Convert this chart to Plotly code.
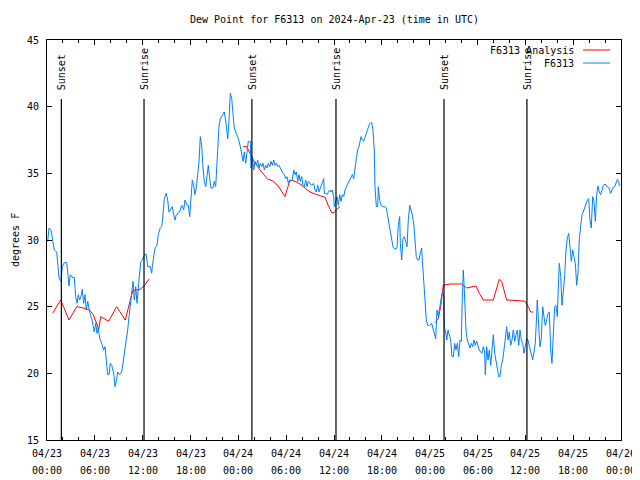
import pandas as pd
import plotly.graph_objects as go

BASE = pd.Timestamp("2024-04-23 00:00")

# F6313 observations: hours since 2024-04-23 00:00 UTC, dew point (F)
obs_hours = [0.09, 0.25, 0.5, 0.66, 0.92, 1.22, 1.34, 1.51, 1.76, 1.92, 2.17, 2.47, 2.6, 2.76, 2.92, 3.17, 3.42, 3.6, 3.76, 3.93,
             4.1, 4.26, 4.43, 4.6, 4.77, 4.93, 5.11, 5.27, 5.43, 5.61, 5.77, 5.93, 6.11, 6.27, 6.43, 6.61, 6.77, 6.94, 7.11, 7.28,
             7.44, 7.61, 7.78, 7.94, 8.12, 8.37, 8.53, 8.69, 8.87, 9.12, 9.37, 9.53, 9.78, 9.95, 10.12, 10.29, 10.45, 10.62, 10.79, 10.95,
             11.13, 11.29, 11.45, 11.63, 11.79, 11.95, 12.13, 12.29, 12.46, 12.63, 12.96, 13.13, 13.21, 13.38, 13.55, 13.8, 13.96, 14.21, 14.39, 14.55,
             14.71, 14.96, 15.14, 15.3, 15.55, 15.72, 15.89, 16.06, 16.22, 16.47, 16.72, 16.9, 17.15, 17.31, 17.56, 17.72, 17.9, 18.06, 18.23, 18.4,
             18.56, 18.73, 18.9, 19.07, 19.23, 19.4, 19.57, 19.73, 19.91, 20.07, 20.23, 20.41, 20.57, 20.82, 20.99, 21.16, 21.24, 21.41, 21.57, 21.74,
             21.99, 22.24, 22.42, 22.58, 22.67, 22.83, 22.99, 23.17, 23.33, 23.49, 23.74, 24.0, 24.25, 24.42, 24.59, 24.75, 24.92, 25.09, 25.25, 25.5,
             25.59, 25.75, 25.93, 26.09, 26.25, 26.43, 26.59, 26.76, 26.93, 27.09, 27.26, 27.43, 27.6, 27.76, 27.93, 28.1, 28.26, 28.44, 28.6, 28.76,
             28.94, 29.1, 29.26, 29.44, 29.6, 29.77, 29.94, 30.1, 30.27, 30.44, 30.61, 30.77, 30.94, 31.11, 31.27, 31.45, 31.61, 31.77, 31.95, 32.11,
             32.27, 32.45, 32.61, 32.78, 33.03, 33.2, 33.45, 33.62, 33.78, 33.96, 34.12, 34.28, 34.46, 34.71, 34.78, 34.96, 35.12, 35.29, 35.46, 35.62,
             35.79, 35.96, 36.04, 36.21, 36.38, 36.54, 36.72, 36.88, 37.04, 37.22, 37.38, 37.63, 37.88, 38.13, 38.3, 38.47, 38.63, 38.8, 38.97, 39.14,
             39.39, 39.55, 39.72, 39.89, 40.05, 40.23, 40.39, 40.55, 40.73, 40.89, 41.06, 41.14, 41.31, 41.48, 41.56, 41.73, 41.9, 42.15, 42.4, 42.56,
             42.74, 42.9, 43.06, 43.24, 43.4, 43.65, 43.9, 44.07, 44.24, 44.32, 44.49, 44.65, 44.82, 44.99, 45.16, 45.32, 45.5, 45.66, 45.82, 46.0,
             46.16, 46.32, 46.5, 46.66, 46.82, 47.0, 47.08, 47.25, 47.41, 47.58, 47.75, 48.0, 48.25, 48.42, 48.58, 48.76, 48.92, 49.08, 49.26, 49.42,
             49.58, 49.76, 49.83, 50.01, 50.14, 50.3, 50.47, 50.64, 50.8, 50.97, 51.14, 51.3, 51.47, 51.64, 51.8, 51.97, 52.06, 52.22, 52.31, 52.39,
             52.56, 52.72, 52.9, 53.06, 53.22, 53.4, 53.56, 53.72, 53.9, 54.06, 54.23, 54.4, 54.56, 54.73, 54.9, 54.98, 55.15, 55.32, 55.48, 55.66,
             55.82, 55.98, 56.16, 56.32, 56.48, 56.66, 56.82, 56.99, 57.16, 57.32, 57.49, 57.66, 57.83, 57.99, 58.16, 58.33, 58.49, 58.67, 58.83, 58.99,
             59.17, 59.33, 59.5, 59.67, 59.83, 60.0, 60.17, 60.33, 60.5, 60.67, 60.92, 61.09, 61.25, 61.43, 61.5, 61.68, 61.84, 62.0, 62.18, 62.34,
             62.5, 62.68, 62.84, 63.01, 63.18, 63.34, 63.51, 63.68, 63.85, 64.01, 64.19, 64.26, 64.44, 64.6, 64.76, 64.94, 65.1, 65.26, 65.44, 65.6,
             65.77, 65.94, 66.1, 66.27, 66.44, 66.6, 66.77, 66.94, 67.11, 67.27, 67.45, 67.61, 67.77, 67.95, 68.11, 68.27, 68.45, 68.61, 68.78, 68.95,
             69.11, 69.28, 69.45, 69.62, 69.78, 70.03, 70.21, 70.46, 70.71, 70.87, 71.04, 71.21, 71.37, 71.54, 71.71, 71.79]
obs_dewpt = [29.9, 30.9, 30.75, 30.2, 29.25, 29.1, 28.0, 27.15, 26.9, 28.0, 28.3, 28.3, 27.6, 26.55, 27.4, 27.2, 27.2, 25.75, 25.25, 25.9,
             25.5, 25.75, 26.3, 25.25, 25.9, 24.75, 25.4, 24.75, 24.4, 24.1, 23.5, 23.1, 23.75, 23.0, 23.4, 22.6, 22.4, 22.0, 21.75, 22.0,
             20.75, 19.9, 19.9, 20.75, 20.6, 20.0, 19.0, 19.4, 20.1, 19.9, 20.1, 20.75, 21.5, 22.5, 23.25, 24.25, 25.0, 25.75, 26.9, 25.5,
             26.5, 25.25, 26.75, 27.6, 28.4, 28.5, 28.75, 28.95, 28.9, 28.0, 28.0, 27.5, 28.0, 28.75, 29.4, 29.6, 30.4, 30.9, 31.0, 31.9,
             33.1, 33.5, 33.0, 32.1, 32.4, 32.5, 31.9, 31.5, 31.9, 32.0, 32.25, 32.6, 32.25, 33.0, 32.6, 32.6, 31.75, 33.0, 34.5, 34.1,
             33.4, 33.9, 34.9, 35.9, 37.75, 37.1, 35.4, 34.4, 34.0, 35.0, 35.6, 34.6, 33.9, 33.9, 34.4, 34.0, 35.1, 37.1, 38.5, 39.1,
             39.4, 39.6, 38.9, 38.1, 37.6, 38.9, 41.0, 40.6, 39.4, 38.4, 38.0, 37.6, 37.0, 36.25, 35.9, 36.6, 35.75, 36.6, 37.4, 37.4,
             35.4, 36.25, 35.25, 35.9, 35.6, 36.0, 35.4, 35.75, 35.5, 35.75, 35.25, 35.6, 35.4, 35.75, 35.5, 35.9, 35.6, 36.0, 35.6, 35.75,
             35.5, 35.6, 35.4, 35.1, 35.0, 34.9, 34.6, 34.75, 34.25, 34.5, 34.4, 34.5, 35.25, 34.9, 35.1, 34.4, 34.9, 34.4, 34.75, 34.1,
             34.0, 34.5, 34.0, 34.4, 34.25, 34.1, 34.25, 33.75, 33.6, 34.1, 33.6, 33.9, 34.25, 34.6, 33.5, 33.5, 33.4, 33.6, 33.75, 33.6,
             33.75, 33.25, 32.5, 32.9, 33.25, 32.6, 33.4, 32.9, 33.4, 33.25, 33.75, 34.1, 34.4, 34.75, 34.9, 34.6, 35.5, 36.1, 36.75, 37.0,
             37.75, 37.5, 37.4, 37.75, 38.1, 38.4, 38.6, 38.75, 38.8, 38.25, 36.6, 34.0, 32.5, 32.5, 34.0, 33.0, 32.6, 32.5, 32.5, 32.4,
             31.75, 31.1, 30.4, 29.9, 29.5, 29.3, 29.4, 31.1, 31.75, 29.75, 28.5, 30.1, 30.25, 29.9, 29.5, 31.5, 32.6, 32.25, 31.9, 31.25,
             29.75, 28.75, 28.5, 28.5, 29.0, 29.4, 28.5, 27.0, 25.25, 24.0, 23.6, 23.6, 23.75, 23.25, 23.0, 22.6, 24.75, 24.25, 25.0, 25.6,
             26.1, 25.75, 23.5, 23.1, 22.5, 23.25, 22.75, 22.5, 21.25, 21.25, 22.25, 21.75, 22.25, 21.25, 22.5, 22.4, 25.0, 27.75, 26.75, 25.0,
             23.25, 22.5, 22.25, 21.9, 22.25, 22.0, 22.5, 22.1, 22.4, 22.0, 21.75, 21.6, 21.5, 22.0, 21.6, 19.9, 22.0, 21.0, 21.75, 20.6,
             21.75, 22.9, 21.5, 20.75, 20.4, 19.75, 19.75, 20.6, 21.0, 21.75, 22.6, 23.5, 22.5, 23.1, 22.1, 22.5, 23.25, 22.4, 22.9, 23.25,
             22.1, 23.25, 22.5, 22.25, 21.5, 22.1, 22.6, 22.5, 22.0, 21.75, 21.0, 21.6, 22.25, 24.5, 25.5, 23.5, 22.0, 22.6, 25.0, 24.25,
             23.6, 24.0, 24.5, 24.6, 21.75, 20.75, 23.4, 25.0, 25.1, 24.25, 27.25, 28.25, 27.25, 25.1, 26.1, 27.4, 29.25, 30.1, 30.5, 29.25,
             28.4, 29.25, 28.6, 28.25, 26.6, 27.5, 30.1, 31.25, 31.9, 32.1, 32.5, 32.75, 33.0, 33.1, 31.5, 30.9, 33.25, 32.9, 31.4, 33.4,
             34.05, 33.6, 33.4, 33.75, 34.1, 34.2, 34.0, 33.95, 33.5, 33.75, 33.95, 34.0, 34.25, 34.55, 34.4, 34.05]

# F6313 Analysis: three separate segments (hours, dew point)
ana1_hours = [0.71, 1.72, 2.76, 3.73, 4.55, 5.31, 5.81, 6.49, 6.74, 7.74, 8.74, 9.82, 10.75, 11.67, 12.17, 12.83]
ana1_dewpt = [24.5, 25.5, 24.0, 25.0, 24.9, 24.75, 24.4, 23.3, 24.25, 23.9, 25.0, 24.0, 26.2, 26.3, 26.55, 27.1]
ana2_hours = [24.62, 25.05, 25.88, 26.72, 27.63, 28.39, 29.01, 29.85, 30.48, 31.11, 31.74, 32.36, 32.99, 33.83, 34.87, 35.28,
              35.71, 36.0, 36.34, 36.75]
ana2_dewpt = [37.0, 37.0, 36.0, 35.25, 34.6, 34.4, 34.05, 33.25, 34.5, 34.4, 34.2, 33.9, 33.6, 33.4, 33.2, 32.6,
              32.05, 32.05, 32.3, 32.5]
ana3_hours = [48.67, 49.08, 49.38, 49.71, 50.55, 52.02, 52.64, 53.27, 53.81, 54.23, 54.73, 55.98, 56.73, 57.03, 57.66,
              59.24, 59.96, 60.37, 60.67, 61.0]
ana3_dewpt = [23.8, 24.1, 25.0, 26.6, 26.7, 26.7, 26.4, 26.5, 26.55, 26.0, 25.5, 25.5, 27.05, 26.9, 25.5,
              25.45, 25.4, 25.0, 24.6, 24.6]

# Sun events (hours since start)
event_hours = [1.8, 12.17, 25.7, 36.25, 49.8, 60.2]
event_labels = ["Sunset", "Sunrise", "Sunset", "Sunrise", "Sunset", "Sunrise"]

# X tick labels every 6 hours (date line, time line)
tick_hours = [0, 6, 12, 18, 24, 30, 36, 42, 48, 54, 60, 66, 72]
tick_dates = ["04/23", "04/23", "04/23", "04/23", "04/24", "04/24", "04/24", "04/24",
              "04/25", "04/25", "04/25", "04/25", "04/26"]
tick_times = ["00:00", "06:00", "12:00", "18:00", "00:00", "06:00", "12:00", "18:00",
              "00:00", "06:00", "12:00", "18:00", "00:00"]

series_names = ["F6313 Analysis", "F6313"]
series_colors = ["#ff0000", "#0080ff"]


def to_time(hours):
    return BASE + pd.to_timedelta(hours, unit="h")


FONT = "DejaVu Sans Mono"
fig = go.Figure()

for h, v in [(ana1_hours, ana1_dewpt), (ana2_hours, ana2_dewpt), (ana3_hours, ana3_dewpt)]:
    fig.add_trace(go.Scatter(x=to_time(h), y=v, mode="lines",
                             line=dict(color=series_colors[0], width=1), showlegend=False))

fig.add_trace(go.Scatter(x=to_time(obs_hours), y=obs_dewpt, mode="lines",
                         line=dict(color=series_colors[1], width=1), showlegend=False))

# Sun event lines and labels
for h, lab in zip(event_hours, event_labels):
    t = to_time(h)
    fig.add_shape(type="line", xref="x", yref="paper", x0=t, x1=t, y0=0, y1=0.8525,
                  line=dict(color="black", width=1.2))
    fig.add_annotation(x=t, xref="x", y=0.87, yref="paper", text=lab, textangle=-90,
                       showarrow=False, xanchor="center", yanchor="bottom",
                       font=dict(family=FONT, size=10, color="black"))

# Two-line x tick labels (gnuplot spacing)
for h, d, tm in zip(tick_hours, tick_dates, tick_times):
    t = to_time(h)
    fig.add_annotation(x=t, xref="x", y=-0.035, yref="paper", text=d, showarrow=False,
                       xanchor="center", yanchor="middle", font=dict(family=FONT, size=10, color="black"))
    fig.add_annotation(x=t, xref="x", y=-0.075, yref="paper", text=tm, showarrow=False,
                       xanchor="center", yanchor="middle", font=dict(family=FONT, size=10, color="black"))

# Manual legend (gnuplot style: text then sample line)
legend_y = [0.975, 0.9425]
for name, col, ly in zip(series_names, series_colors, legend_y):
    fig.add_annotation(x=0.9216, xref="paper", y=ly, yref="paper", text=name, showarrow=False,
                       xanchor="right", yanchor="middle", font=dict(family=FONT, size=10, color="black"))
    fig.add_shape(type="line", xref="paper", yref="paper", x0=0.934, x1=0.981, y0=ly, y1=ly,
                  line=dict(color=col, width=1))

# Title and y-axis label
fig.add_annotation(x=0.5, xref="paper", y=1.05, yref="paper",
                   text="Dew Point for F6313 on 2024-Apr-23 (time in UTC)", showarrow=False,
                   xanchor="center", yanchor="middle", font=dict(family=FONT, size=10, color="black"))
fig.add_annotation(x=-0.0557, xref="paper", y=0.5, yref="paper", text="degrees F", textangle=-90,
                   showarrow=False, xanchor="center", yanchor="middle",
                   font=dict(family=FONT, size=10, color="black"))

# The page body adds an 8px margin, so the figure is sized 632x472 to fill the 640x480 window.
fig.update_layout(
    width=632, height=472,
    margin=dict(l=39, r=19, t=32, b=40, autoexpand=False),
    paper_bgcolor="white", plot_bgcolor="white",
    font=dict(family=FONT, size=10, color="black"),
    showlegend=False,
    xaxis=dict(type="date", range=[to_time(0), to_time(72)],
               tickvals=to_time(tick_hours), showticklabels=False,
               ticks="inside", ticklen=5, tickcolor="black", tickwidth=1,
               minor=dict(ticks="inside", ticklen=3, dtick=2 * 3600 * 1000, tick0=to_time(0),
                          tickcolor="black", showgrid=False),
               showline=True, linecolor="black", linewidth=1, mirror="ticks",
               showgrid=False, zeroline=False),
    yaxis=dict(range=[15, 45], tickvals=[15, 20, 25, 30, 35, 40, 45],
               ticks="inside", ticklen=5, tickcolor="black", tickwidth=1,
               showline=True, linecolor="black", linewidth=1, mirror="ticks",
               showgrid=False, zeroline=False, ticklabelstandoff=5),
)

fig.write_html("out.html")
